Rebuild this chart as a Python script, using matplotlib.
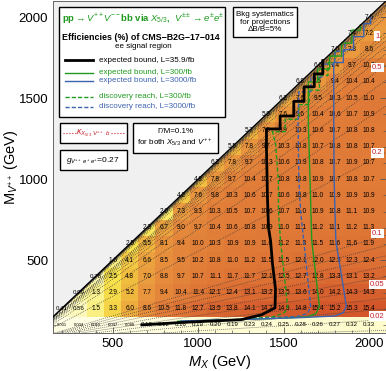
import numpy as np
import matplotlib
matplotlib.use("Agg")
import matplotlib.pyplot as plt
from matplotlib.colors import LinearSegmentedColormap
from matplotlib.ticker import MultipleLocator

plt.rcParams['font.family'] = ['Liberation Sans', 'DejaVu Sans']
plt.rcParams['mathtext.fontset'] = 'custom'
plt.rcParams['mathtext.rm'] = 'Liberation Sans'
plt.rcParams['mathtext.it'] = 'Liberation Sans:italic'
plt.rcParams['mathtext.bf'] = 'Liberation Sans:bold'

# grid of masses (GeV)
mx_grid = list(range(200, 2001, 100))
mv_grid = list(range(100, 2001, 100))

# efficiencies (%) per M_V row; rows 100 and 200 start at M_X=200, others at M_X=M_V
eff_100 = [0.001, 0.004, 0.015, 0.047, 0.088, 0.10, 0.12, 0.16, 0.19, 0.20, 0.19,
           0.23, 0.24, 0.25, 0.28, 0.26, 0.27, 0.32, 0.33]
eff_200 = [0.41, 0.56, 1.5, 3.3, 6.0, 8.6, 10.5, 11.8, 12.7, 13.5, 13.8, 14.1, 14.7,
           14.9, 14.8, 15.4, 15.2, 15.3, 15.4]
eff_300 = [0.99, 1.3, 2.9, 5.2, 7.7, 9.4, 10.4, 11.4, 12.1, 12.4, 13.1, 13.2, 13.5,
           13.6, 14.0, 14.2, 14.3, 14.3]
eff_400 = [0.78, 2.5, 4.8, 7.0, 8.8, 9.7, 10.7, 11.1, 11.7, 11.7, 12.1, 12.5, 12.7,
           12.8, 13.3, 13.1, 13.2]
eff_500 = [1.6, 4.1, 6.6, 8.5, 9.5, 10.2, 10.8, 11.0, 11.2, 11.5, 11.5, 12.1, 12.0,
           12.3, 12.3, 12.4]
eff_600 = [2.5, 5.5, 8.1, 9.4, 10.0, 10.3, 10.9, 10.9, 11.0, 11.2, 11.3, 11.5, 11.6,
           11.6, 11.9]
eff_700 = [2.3, 6.7, 9.0, 9.7, 10.4, 10.6, 10.8, 10.9, 11.0, 11.1, 11.2, 11.1, 11.2, 11.3]
eff_800 = [2.0, 7.3, 9.3, 10.3, 10.5, 10.7, 10.6, 10.7, 11.0, 10.9, 10.8, 11.1, 10.9]
eff_900 = [4.2, 7.6, 9.8, 10.3, 10.6, 10.7, 10.6, 10.8, 11.0, 10.9, 10.9, 10.9]
eff_1000 = [4.8, 7.8, 9.7, 10.4, 10.7, 10.8, 10.8, 10.9, 10.7, 10.8, 10.7]
eff_1100 = [6.2, 7.8, 9.7, 10.3, 10.6, 10.9, 10.8, 10.7, 10.9, 10.7]
eff_1200 = [5.5, 7.8, 9.7, 10.3, 10.8, 10.7, 10.8, 10.8, 10.7]
eff_1300 = [5.7, 7.9, 9.9, 10.3, 10.6, 10.7, 10.8, 10.8]
eff_1400 = [5.9, 7.6, 9.6, 10.4, 10.6, 10.7, 10.9]
eff_1500 = [6.2, 7.6, 9.5, 10.3, 10.5, 11.0]
eff_1600 = [6.8, 7.5, 9.4, 10.4, 10.4]
eff_1700 = [6.6, 7.4, 9.7, 10.2]
eff_1800 = [7.0, 7.3, 8.6]
eff_1900 = [7.4, 7.2]
eff_2000 = [7.6]

rows = [eff_100, eff_200, eff_300, eff_400, eff_500, eff_600, eff_700, eff_800,
        eff_900, eff_1000, eff_1100, eff_1200, eff_1300, eff_1400, eff_1500,
        eff_1600, eff_1700, eff_1800, eff_1900, eff_2000]

# bound / reach contours (M_X, M_V)
bound36_mx = [670, 900, 1000, 1250, 1370, 1450, 1453, 1435, 1424, 1412, 1406, 1400, 1400,
              1480, 1480, 1560, 1560, 1620, 1620, 1680, 1680, 1730, 1730]
bound36_mv = [100, 115, 120, 132, 162, 205, 320, 480, 620, 700, 880, 1190, 1310,
              1310, 1390, 1390, 1480, 1480, 1570, 1570, 1650, 1650, 1732]
bound300_mx = [880, 1200, 1500, 1640, 1690, 1710, 1665, 1655, 1645, 1645,
               1700, 1700, 1770, 1770, 1840, 1840, 1900, 1900, 1950, 1950]
bound300_mv = [122, 132, 142, 150, 170, 215, 622, 1000, 1354, 1600,
               1600, 1680, 1680, 1760, 1760, 1840, 1840, 1920, 1920, 1952]
bound3000_mx = [900, 1300, 1600, 1800, 1850, 1868, 1806, 1796, 1794, 1794,
                1850, 1850, 1910, 1910, 1970, 1970, 2010, 2010]
bound3000_mv = [124, 135, 145, 155, 175, 215, 622, 1000, 1354, 1720,
                1720, 1800, 1800, 1880, 1880, 1960, 1960, 2012]
disc300_mx = [880, 1100, 1300, 1450, 1510, 1524, 1482, 1470, 1470, 1453, 1435,
              1510, 1510, 1590, 1590, 1650, 1650, 1710, 1710, 1760, 1760, 1800, 1800]
disc300_mv = [118, 126, 138, 152, 180, 213, 622, 800, 988, 1222, 1293,
              1293, 1370, 1370, 1460, 1460, 1550, 1550, 1640, 1640, 1720, 1720, 1802]
disc3000_mx = [880, 1200, 1450, 1580, 1640, 1659, 1618, 1600, 1590, 1585, 1590,
               1660, 1660, 1730, 1730, 1800, 1800, 1860, 1860]
disc3000_mv = [120, 130, 145, 152, 170, 213, 622, 800, 988, 1354, 1540,
               1540, 1630, 1630, 1710, 1710, 1790, 1790, 1864]

# kappa contour levels (dotted), labelled ones in red
kappa_levels = [0.01, 0.02, 0.03, 0.04, 0.05, 0.06, 0.07, 0.08, 0.09,
                0.1, 0.2, 0.3, 0.4, 0.5, 0.6, 0.7, 0.8, 0.9,
                1, 2, 3, 4, 5, 6, 7, 8, 9, 10, 20, 30]
kappa_labels = [1, 0.5, 0.2, 0.1, 0.05, 0.02]
width_over_mass = 0.001

xlim = (150, 2100)
ylim = (50, 2100)

green = '#1f9a1f'
blue = '#3d62b0'
red = '#c8202a'

# ---- build matrix
Z = np.full((len(mv_grid), len(mx_grid)), np.nan)
for i, (mv, vals) in enumerate(zip(mv_grid, rows)):
    start = max(mv, mx_grid[0])
    j0 = mx_grid.index(start)
    Z[i, j0:j0 + len(vals)] = vals

mxa = np.array(mx_grid, float)
mva = np.array(mv_grid, float)
x_edges = np.concatenate([[xlim[0]], (mxa[:-1] + mxa[1:]) / 2, [xlim[1]]])
y_edges = np.concatenate([[ylim[0]], (mva[:-1] + mva[1:]) / 2, [ylim[1]]])

cmap = LinearSegmentedColormap.from_list('eff', [
    (0.0, '#fffde2'), (0.06, '#fbf6a0'), (0.16, '#f7e24c'), (0.32, '#f0ba3e'),
    (0.48, '#e9973e'), (0.68, '#e07c38'), (0.84, '#da6a32'), (1.0, '#d2552a')])

fig = plt.figure(figsize=(3.86, 3.71), dpi=100)
ax = fig.add_axes([53 / 386, 38 / 371, 333 / 386, 332 / 371])

ax.pcolormesh(x_edges, y_edges, np.ma.masked_invalid(Z), cmap=cmap, vmin=0, vmax=15.5,
              shading='flat', zorder=1)
ax.fill_between(xlim, xlim, ylim[1], color='#f0f0f0', zorder=2, lw=0)
ax.plot(xlim, xlim, color='k', lw=1.0, zorder=6)

# kappa needed for fixed Gamma/M of X_5/3 -> V++ b
MX, MV = np.meshgrid(np.linspace(xlim[0], xlim[1], 500), np.linspace(ylim[0], ylim[1], 500))
r2 = (MV / MX) ** 2
with np.errstate(invalid='ignore', divide='ignore'):
    K = np.sqrt(width_over_mass * 32 * np.pi * r2 / ((1 - r2) ** 2 * (1 + 2 * r2)))
K[r2 >= 1] = np.nan
ax.contour(MX, MV, K, levels=kappa_levels, colors='#3a3a3a', linestyles=':',
           linewidths=0.55, zorder=3)

# cell labels
for i, mv in enumerate(mv_grid):
    for j, mx in enumerate(mx_grid):
        v = Z[i, j]
        if np.isnan(v):
            continue
        if v >= 1:
            s, fs = f"{v:.1f}", 4.7
        elif v >= 0.1:
            s, fs = f"{v:.2f}", 4.4
        else:
            s, fs = f"{v:.3f}", 3.0
        ax.text(mx, mv, s, ha='center', va='center', fontsize=fs, zorder=4)

ax.plot(disc300_mx, disc300_mv, color=green, lw=1.0, ls=(0, (3, 1.5)), zorder=5)
ax.plot(disc3000_mx, disc3000_mv, color=blue, lw=1.0, ls=(0, (3, 1.5)), zorder=5)
ax.plot(bound300_mx, bound300_mv, color=green, lw=1.0, zorder=5)
ax.plot(bound3000_mx, bound3000_mv, color=blue, lw=1.0, zorder=5)
ax.plot(bound36_mx, bound36_mv, color='k', lw=2.0, zorder=5)

# red kappa labels at the right edge
rr = np.linspace(0.001, 0.999, 5000)
kk = np.sqrt(width_over_mass * 32 * np.pi * rr ** 2 / ((1 - rr ** 2) ** 2 * (1 + 2 * rr ** 2)))
x_lab = 2048
for lev in kappa_labels:
    r = np.interp(lev, kk, rr)
    ax.text(x_lab, r * x_lab + 25, f"{lev:g}", color=red, fontsize=5.5, ha='center',
            va='center', zorder=8, clip_on=False,
            bbox=dict(boxstyle='square,pad=0.15', fc='white', ec='none'))

ax.set_xlim(xlim)
ax.set_ylim(ylim)
ax.set_xticks([500, 1000, 1500, 2000])
ax.set_yticks([500, 1000, 1500, 2000])
ax.xaxis.set_minor_locator(MultipleLocator(100))
ax.yaxis.set_minor_locator(MultipleLocator(100))
ax.tick_params(which='both', direction='in', top=True, right=True, labelsize=9.5,
               color='#555555')
ax.tick_params(which='major', length=4, width=0.6)
ax.tick_params(which='minor', length=2, width=0.5)
for sp in ax.spines.values():
    sp.set_linewidth(0.7)
    sp.set_color('#666666')
ax.set_xlabel(r"$M_X$ (GeV)", fontsize=10.5, labelpad=2)
ax.set_ylabel(r"M$_{V^{++}}$ (GeV)", fontsize=10.5)
ax.yaxis.set_label_coords(-0.1, 0.5)


def box(x0, y0, x1, y1):
    ax.add_patch(plt.Rectangle((x0, y0), x1 - x0, y1 - y0, transform=ax.transAxes,
                               fc='white', ec='k', lw=1.0, zorder=9))


def px(x, y):
    return (x - 53) / 333, (333 - y) / 332


T = dict(transform=ax.transAxes, zorder=10)

# main legend box
box(*px(59, 117), *px(225, 7))
ax.text(*px(62, 19), r"pp$\rightarrow$$V^{++}$$V^{--}$bb via $X_{5/3}$,  $V^{\pm\pm}$$\rightarrow$$e^{\pm}e^{\pm}$",
        color=green, fontsize=6.8, fontweight='bold', va='center', ha='left', **T)
ax.text(*px(62, 37), "Efficiencies (%) of CMS\u2212B2G\u221217\u2212014", fontsize=6.4,
        fontweight='bold', va='center', ha='left', **T)
ax.text(*px(143, 47), "ee signal region", fontsize=5.8, va='center', ha='center', **T)
entries = [("expected bound, L=35.9/fb", 'k', '-', 2.0, 60),
           ("expected bound, L=300/fb", green, '-', 1.0, 73),
           ("expected bound, L=3000/fb", blue, '-', 1.0, 81),
           ("discovery reach, L=300/fb", green, (0, (3, 1.5)), 1.0, 97),
           ("discovery reach, L=3000/fb", blue, (0, (3, 1.5)), 1.0, 107)]
for lab, c, ls, lw, yy in entries:
    xa, ya = px(65, yy)
    xb, _ = px(93, yy)
    ax.plot([xa, xb], [ya, ya], color=c, ls=ls, lw=lw, **T)
    ax.text(*px(99, yy), lab, color=c, fontsize=5.8, va='center', ha='left', **T)

# systematics box
box(*px(233, 37), *px(297, 7))
ax.text(*px(265, 22), "Bkg systematics\nfor projections\n\u0394B/B=5%", fontsize=5.8,
        ha='center', va='center', linespacing=1.1, **T)

# kappa box
box(*px(60, 143), *px(127, 123))
xa, ya = px(63, 133)
xb, _ = px(76, 133)
ax.plot([xa, xb], [ya, ya], color=red, ls=':', lw=0.8, **T)
xa, _ = px(111, 133)
xb, _ = px(124, 133)
ax.plot([xa, xb], [ya, ya], color=red, ls=':', lw=0.8, **T)
ax.text(*px(93, 133), r"$\kappa_{X_{5/3}\ V^{++}\ b}$", color=red, fontsize=6.3,
        ha='center', va='center', **T)

# coupling box
box(*px(60, 170), *px(127, 150))
ax.text(*px(93, 160), r"$g_{V^{++}\ e^{+}\ e^{+}}$=0.27", fontsize=6.0,
        ha='center', va='center', **T)

# width box
box(*px(133, 153), *px(218, 123))
ax.text(*px(175, 138), "\u0393/M=0.1%\nfor both $X_{5/3}$ and $V^{++}$", fontsize=5.8,
        ha='center', va='center', linespacing=1.1, **T)

fig.savefig("out.png", dpi=100)
